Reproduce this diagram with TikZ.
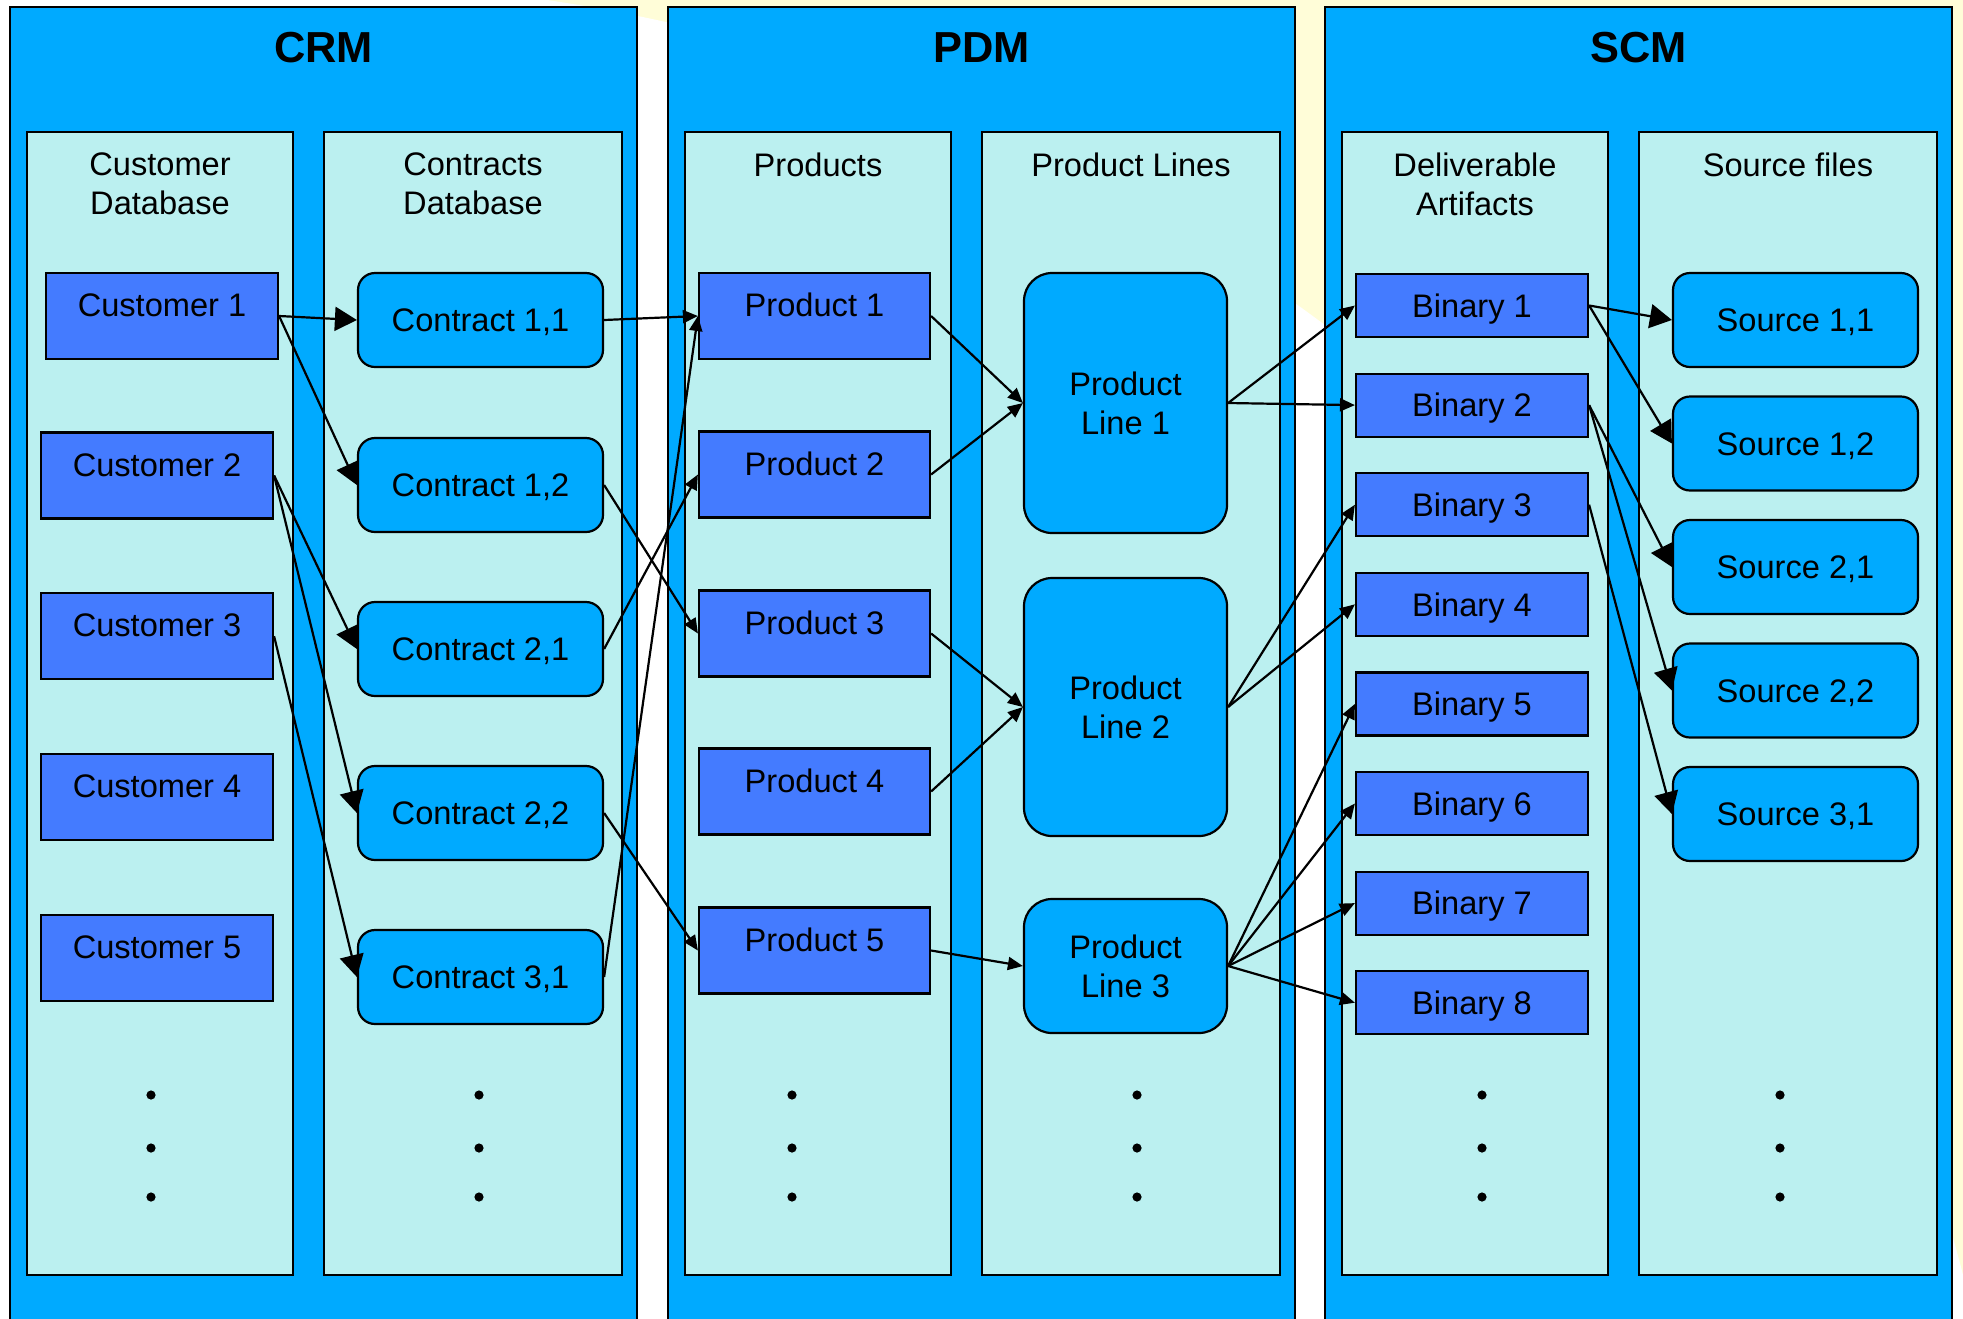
\documentclass[tikz,border=0pt]{standalone}
\usepackage{fontspec}
\setmainfont{Liberation Sans}
\usetikzlibrary{arrows.meta}
\definecolor{panelblue}{RGB}{0,170,255}
\definecolor{colcyan}{RGB}{187,240,240}
\definecolor{boxblue}{RGB}{68,123,255}
\definecolor{bgyellow}{RGB}{255,253,216}

\begin{document}
\begin{tikzpicture}[x=0.5pt,y=-0.5pt,
  txt/.style={font=\fontsize{16.3pt}{19.6pt}\selectfont},
  panelbox/.style={draw=black,line width=1.3pt,fill=panelblue},
  colbox/.style={draw=black,line width=1.3pt,fill=colcyan},
  ttl/.style={font=\fontsize{21.7pt}{26pt}\selectfont\bfseries,anchor=base,inner sep=0},
  hdr/.style={txt,align=center,anchor=north,inner sep=0},
  sqbox/.style={txt,draw=black,line width=1.1pt,fill=boxblue,inner sep=0,
    minimum width=116pt,text height=11.7pt},
  upbox/.style={sqbox,minimum height=43pt,text depth=11pt},
  binbox/.style={sqbox,minimum height=31.5pt,text depth=0pt},
  rndbox/.style={txt,draw=black,line width=1.1pt,fill=panelblue,inner sep=0,
    rounded corners=8.5pt,minimum width=122.5pt,minimum height=47pt,
    text height=11.7pt,text depth=0pt},
  linebox/.style={txt,draw=black,line width=1.1pt,fill=panelblue,inner sep=0,
    rounded corners=14pt,minimum width=101.5pt,align=center},
  ellipsisdot/.style={circle,fill=black,inner sep=0,minimum size=4.6pt},
  conn/.style={line width=1.1pt,-{Triangle[length=7.5pt,width=6.5pt]}},
  bigconn/.style={line width=1.1pt,-{Triangle[length=11pt,width=12pt]}},
]
\useasboundingbox (0,0) rectangle (1963,1318);
\clip (0,0) rectangle (1963,1318);

% backdrop
\fill[white] (0,0) rectangle (1963,1318);
\fill[bgyellow] (300,0) rectangle (1963,1318);
\fill[white] (290,1709) circle[radius=864pt];

% system panels
\draw[panelbox] (10,7) rectangle (637,1340);
\draw[panelbox] (668,7) rectangle (1295,1340);
\draw[panelbox] (1325,7) rectangle (1952,1340);
\node[ttl] (tcrm) at (323.5,62) {CRM};
\node[ttl] (tpdm) at (981.5,62) {PDM};
\node[ttl] (tscm) at (1638.5,62) {SCM};

% columns
\draw[colbox] (27,132) rectangle (293,1275);
\draw[colbox] (324,132) rectangle (622,1275);
\draw[colbox] (685,132) rectangle (951,1275);
\draw[colbox] (982,132) rectangle (1280,1275);
\draw[colbox] (1342,132) rectangle (1608,1275);
\draw[colbox] (1639,132) rectangle (1937,1275);

\node[hdr] (hcust) at (160,152) {Customer\\Database};
\node[hdr] (hcont) at (473,152) {Contracts\\Database};
\node[hdr] (hprod) at (818,152) {Products};
\node[hdr] (hline) at (1131,152) {Product Lines};
\node[hdr] (hbin) at (1475,152) {Deliverable\\Artifacts};
\node[hdr] (hsrc) at (1788,152) {Source files};

% customers
\node[upbox] (cust1) at (162,316) {Customer 1};
\node[upbox] (cust2) at (157,475.5) {Customer 2};
\node[upbox] (cust3) at (157,636.2) {Customer 3};
\node[upbox] (cust4) at (157,796.9) {Customer 4};
\node[upbox] (cust5) at (157,957.6) {Customer 5};

% contracts
\node[rndbox] (con11) at (480.5,320) {Contract 1,1};
\node[rndbox] (con12) at (480.5,485) {Contract 1,2};
\node[rndbox] (con21) at (480.5,649) {Contract 2,1};
\node[rndbox] (con22) at (480.5,813) {Contract 2,2};
\node[rndbox] (con31) at (480.5,977) {Contract 3,1};

% products
\node[upbox,minimum width=115.5pt] (prod1) at (814.5,316) {Product 1};
\node[upbox,minimum width=115.5pt] (prod2) at (814.5,474.5) {Product 2};
\node[upbox,minimum width=115.5pt] (prod3) at (814.5,633.5) {Product 3};
\node[upbox,minimum width=115.5pt] (prod4) at (814.5,791.5) {Product 4};
\node[upbox,minimum width=115.5pt] (prod5) at (814.5,950.5) {Product 5};

% product lines
\node[linebox,minimum height=130pt] (line1) at (1125.5,403) {Product\\Line 1};
\node[linebox,minimum height=129pt] (line2) at (1125.5,707) {Product\\Line 2};
\node[linebox,minimum height=67pt] (line3) at (1125.5,966) {Product\\Line 3};

% binaries
\foreach \i in {1,...,8}
  \node[binbox] (bin\i) at (1472,{305.5+99.6*(\i-1)}) {Binary \i};

% sources
\node[rndbox] (src11) at (1795.5,320) {Source 1,1};
\node[rndbox] (src12) at (1795.5,443.5) {Source 1,2};
\node[rndbox] (src21) at (1795.5,567) {Source 2,1};
\node[rndbox] (src22) at (1795.5,690.5) {Source 2,2};
\node[rndbox] (src31) at (1795.5,814) {Source 3,1};

% continuation dots
\foreach \x/\n in {151/a,479/b,792/c,1137/d,1482/e,1780/f}
  \foreach \y/\m in {1095/1,1148/2,1197/3}
    \node[ellipsisdot] (dot\n\m) at (\x,\y) {};

% customer -> contract
\draw[bigconn] (cust1.east) -- (con11.west);
\draw[bigconn] (cust1.east) -- (con12.west);
\draw[bigconn] (cust2.east) -- (con21.west);
\draw[bigconn] (cust2.east) -- (con22.west);
\draw[bigconn] (cust3.east) -- (con31.west);

% contract -> product
\draw[conn] (con11.east) -- (prod1.west);
\draw[conn] (con12.east) -- (prod3.west);
\draw[conn] (con21.east) -- (prod2.west);
\draw[conn] (con22.east) -- (prod5.west);
\draw[conn] (con31.east) -- (prod1.west);

% product -> product line
\draw[conn] (prod1.east) -- (line1.west);
\draw[conn] (prod2.east) -- (line1.west);
\draw[conn] (prod3.east) -- (line2.west);
\draw[conn] (prod4.east) -- (line2.west);
\draw[conn] (prod5.east) -- (line3.west);

% product line -> binary
\draw[conn] (line1.east) -- (bin1.west);
\draw[conn] (line1.east) -- (bin2.west);
\draw[conn] (line2.east) -- (bin3.west);
\draw[conn] (line2.east) -- (bin4.west);
\foreach \i in {5,...,8}
  \draw[conn] (line3.east) -- (bin\i.west);

% binary -> source
\draw[bigconn] (bin1.east) -- (src11.west);
\draw[bigconn] (bin1.east) -- (src12.west);
\draw[bigconn] (bin2.east) -- (src21.west);
\draw[bigconn] (bin2.east) -- (src22.west);
\draw[bigconn] (bin3.east) -- (src31.west);
\end{tikzpicture}
\end{document}
